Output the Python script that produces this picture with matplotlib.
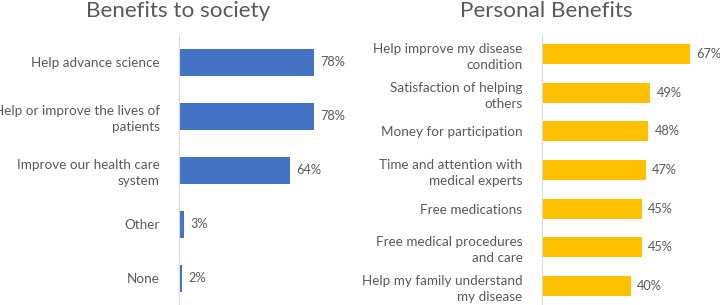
import matplotlib
matplotlib.use("Agg")
import matplotlib.pyplot as plt

society_labels = ["Help advance science", "Help or improve the lives of\npatients",
                  "Improve our health care\nsystem", "Other", "None"]
society_values = [78, 78, 64, 3, 2]

personal_labels = ["Help improve my disease\ncondition", "Satisfaction of helping\nothers",
                   "Money for participation", "Time and attention with\nmedical experts",
                   "Free medications", "Free medical procedures\nand care",
                   "Help my family understand\nmy disease"]
personal_values = [67, 49, 48, 47, 45, 45, 40]

plt.rcParams['font.family'] = ['Lato', 'DejaVu Sans']
grey = '#595959'

fig = plt.figure(figsize=(7.2, 3.05), dpi=100)


def panel(rect, labels, values, color, xmax, height):
    ax = fig.add_axes(rect)
    y = list(range(len(labels)))
    ax.barh(y, values, height=height, color=color)
    ax.set_ylim(len(labels) - 0.5, -0.5)
    ax.set_xlim(0, xmax)
    ax.set_yticks(y)
    ax.set_yticklabels(labels, fontsize=9.7, color=grey, linespacing=1.4)
    ax.tick_params(axis='y', length=0, pad=14)
    ax.set_xticks([])
    for s in ['top', 'right', 'bottom']:
        ax.spines[s].set_visible(False)
    ax.spines['left'].set_color('#D9D9D9')
    for yi, v in zip(y, values):
        ax.text(v + xmax * 0.035, yi, f"{v}%", va='center', ha='left',
                fontsize=9.2, color=grey)
    return ax


panel([179 / 720, 0, 173 / 720, 270 / 305], society_labels, society_values,
      '#4472C4', 100, 0.5)
panel([542 / 720, 0, 177 / 720, 270 / 305], personal_labels, personal_values,
      '#FFC000', 80, 0.52)

fig.text(178 / 720, 1 - 11 / 305, "Benefits to society", ha='center', va='center',
         fontsize=16.2, color=grey)
fig.text(546 / 720, 1 - 11 / 305, "Personal Benefits", ha='center', va='center',
         fontsize=16.2, color=grey)

fig.savefig("out.png", dpi=100)
